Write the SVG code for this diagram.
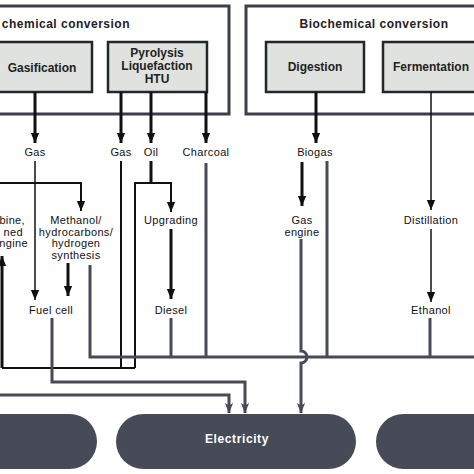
<svg xmlns="http://www.w3.org/2000/svg" width="474" height="474" viewBox="0 0 474 474">
<defs>
<style>
.outer{fill:#fff;stroke:#3b3f48;stroke-width:3}
.inner{fill:#dfe2de;stroke:#23262b;stroke-width:2.5}
.pill{fill:#464b57}
.t{font-family:"Liberation Sans",Arial,sans-serif;font-size:11px;letter-spacing:0.35px;fill:#111;text-anchor:middle}
.b{font-family:"Liberation Sans",Arial,sans-serif;font-size:12px;font-weight:bold;fill:#222;text-anchor:middle}
.title{letter-spacing:0.5px}
.w{fill:#fff;letter-spacing:0.6px}
.k3{stroke:#111;stroke-width:3;fill:none}
.k2{stroke:#111;stroke-width:2;fill:none}
.k15{stroke:#111;stroke-width:1.5;fill:none}
.g{stroke:#464b57;stroke-width:3;fill:none}
</style>
<marker id="ak" markerUnits="userSpaceOnUse" markerWidth="10" markerHeight="11" refX="12" refY="5" orient="auto" viewBox="0 0 12 10">
<path d="M0,0 L12,5 L0,10 z" fill="#111"/>
</marker>
<marker id="ag" markerUnits="userSpaceOnUse" markerWidth="10" markerHeight="12" refX="12" refY="5" orient="auto" viewBox="0 0 12 10">
<path d="M0,0 L12,5 L0,10 L3,5 z" fill="#464b57"/>
</marker>
</defs>

<g id="thermochemical">
<rect class="outer" x="-10" y="6" width="239" height="108"/>
<text class="b title" x="130" y="28" style="text-anchor:end">chemical conversion</text>
</g>
<g id="biochemical">
<rect class="outer" x="246" y="6" width="240" height="108"/>
<text class="b title" x="374" y="28">Biochemical conversion</text>
</g>
<g id="gasification">
<rect class="inner" x="-10" y="42" width="102" height="50"/>
<text class="b" x="42" y="72">Gasification</text>
</g>
<g id="pyrolysis">
<rect class="inner" x="108" y="42" width="99" height="50"/>
<text class="b" x="157" y="57">Pyrolysis</text>
<text class="b" x="157" y="70">Liquefaction</text>
<text class="b" x="157" y="83">HTU</text>
</g>
<g id="digestion">
<rect class="inner" x="266" y="42" width="98" height="50"/>
<text class="b" x="315" y="71">Digestion</text>
</g>
<g id="fermentation">
<rect class="inner" x="383" y="42" width="100" height="50"/>
<text class="b" x="431" y="71">Fermentation</text>
</g>

<g id="labels">
<text class="t" x="35" y="156">Gas</text>
<text class="t" x="121" y="156">Gas</text>
<text class="t" x="151" y="156">Oil</text>
<text class="t" x="206" y="156">Charcoal</text>
<text class="t" x="315" y="156">Biogas</text>
</g>
<g id="turbine">
<text class="t" x="25" y="224" style="text-anchor:end">bine,</text>
<text class="t" x="23" y="235.5" style="text-anchor:end">ned</text>
<text class="t" x="28" y="247" style="text-anchor:end">ngine</text>
</g>
<g id="synthesis">
<text class="t" x="76" y="224">Methanol/</text>
<text class="t" x="76" y="235.5">hydrocarbons/</text>
<text class="t" x="76" y="247">hydrogen</text>
<text class="t" x="76" y="258.5">synthesis</text>
</g>
<g id="fuelcell"><text class="t" x="51" y="314">Fuel cell</text></g>
<g id="upgrading"><text class="t" x="171" y="224">Upgrading</text></g>
<g id="diesel"><text class="t" x="171" y="314">Diesel</text></g>
<g id="gasengine">
<text class="t" x="302" y="224">Gas</text>
<text class="t" x="302" y="236">engine</text>
</g>
<g id="distillation"><text class="t" x="431" y="224">Distillation</text></g>
<g id="ethanol"><text class="t" x="431" y="314">Ethanol</text></g>

<g id="heat"><rect class="pill" x="-60" y="414" width="157" height="55" rx="27.5"/></g>
<g id="electricity">
<rect class="pill" x="116" y="414" width="240" height="55" rx="27.5"/>
<text class="b w" x="237" y="443">Electricity</text>
</g>
<g id="fuels"><rect class="pill" x="376" y="414" width="160" height="55" rx="27.5"/></g>

<g id="connectors">
<line class="k3" x1="35" y1="92" x2="35" y2="143" marker-end="url(#ak)"/>
<line class="k3" x1="121" y1="92" x2="121" y2="143" marker-end="url(#ak)"/>
<line class="k3" x1="151" y1="92" x2="151" y2="143" marker-end="url(#ak)"/>
<line class="k3" x1="206" y1="92" x2="206" y2="143" marker-end="url(#ak)"/>
<line class="k3" x1="316" y1="92" x2="316" y2="143" marker-end="url(#ak)"/>
<line class="k15" x1="431" y1="92" x2="431" y2="210" marker-end="url(#ak)"/>
<line class="k15" x1="35" y1="161" x2="35" y2="300" marker-end="url(#ak)"/>
<path class="k2" d="M-2,183 H81 V211" marker-end="url(#ak)"/>
<line class="k3" x1="68" y1="263" x2="68" y2="296" marker-end="url(#ak)"/>
<path class="k2" d="M121,161 V368"/>
<path class="k3" d="M151,161 V183"/>
<path class="k2" d="M135,368 V183 H171 V212" marker-end="url(#ak)"/>
<path class="k2" d="M135,368 H2"/>
<path class="k3" d="M2,368 V256" marker-end="url(#ak)"/>
<line class="k3" x1="171" y1="229" x2="171" y2="299" marker-end="url(#ak)"/>
<line class="k3" x1="302" y1="162" x2="302" y2="206" marker-end="url(#ak)"/>
<line class="k15" x1="431" y1="229" x2="431" y2="302" marker-end="url(#ak)"/>
<path class="g" d="M90,265 V357 H476"/>
<line class="g" x1="171" y1="318" x2="171" y2="357"/>
<line class="g" x1="206" y1="163" x2="206" y2="357"/>
<line class="g" x1="327" y1="161" x2="327" y2="357"/>
<line class="g" x1="430" y1="318" x2="430" y2="357"/>
<path class="g" d="M301,239 V351 A6,6 0 0 1 301,363 V413" marker-end="url(#ag)"/>
<path class="g" d="M52,318 V382 H245 V413" marker-end="url(#ag)"/>
<path class="g" d="M-2,395 H229 V413" marker-end="url(#ag)"/>
</g>
</svg>
